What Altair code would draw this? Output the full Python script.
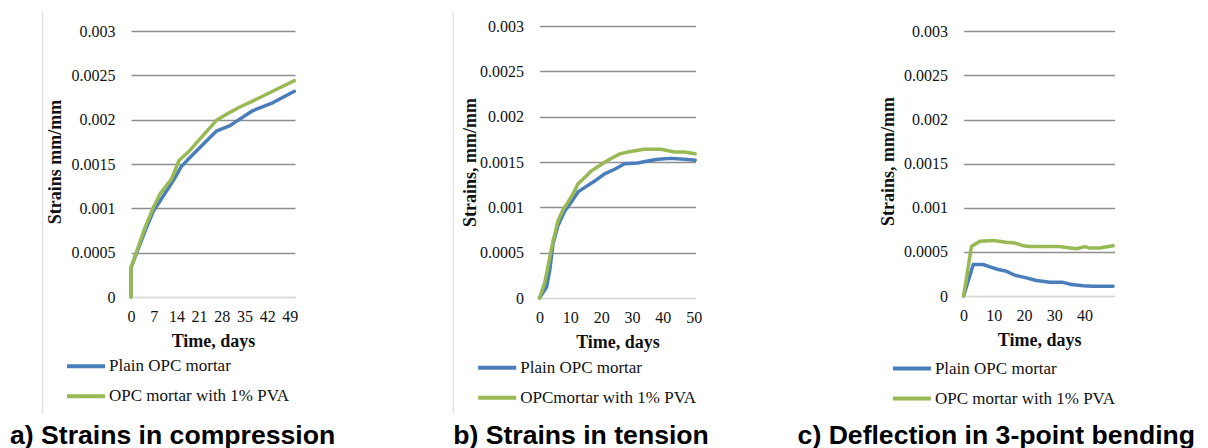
import altair as alt
import pandas as pd

# ---------------- data ----------------
SERIES_A = ["Plain OPC mortar", "OPC mortar with 1% PVA"]
SERIES_B = ["Plain OPC mortar", "OPCmortar with 1% PVA"]
SERIES_C = ["Plain OPC mortar", "OPC mortar with 1% PVA"]
CAPTIONS = ["a) Strains in compression", "b) Strains in tension", "c) Deflection in 3-point bending"]
Y_TITLES = ["Strains mm/mm", "Strains, mm/mm", "Strains, mm/mm"]
X_TITLE = "Time, days"
Y_TICKS = [0, 0.0005, 0.001, 0.0015, 0.002, 0.0025, 0.003]
X_TICKS_A = [0, 7, 14, 21, 28, 35, 42, 49]
X_TICKS_B = [0, 10, 20, 30, 40, 50]
X_TICKS_C = [0, 10, 20, 30, 40]

# a) compression
A_PLAIN_DAYS = [0, 0, 4.3, 6.9, 8.9, 13.0, 15.5, 18.1, 22.2, 26.3, 30.4, 37.5, 43.7, 50.4]
A_PLAIN_VALS = [0, 0.00033, 0.00074, 0.00097, 0.00108, 0.00131, 0.00147, 0.00157, 0.00172,
                0.00187, 0.00193, 0.00210, 0.00219, 0.00232]
A_PVA_DAYS = [0, 0, 4.3, 6.9, 8.9, 12.5, 14.8, 18.1, 21.7, 26.3, 29.4, 33.4, 37.5, 43.7, 50.4]
A_PVA_VALS = [0, 0.00033, 0.00078, 0.00101, 0.00116, 0.00133, 0.00154, 0.00165, 0.00180,
              0.00199, 0.00206, 0.00214, 0.00221, 0.00232, 0.00244]

# b) tension
B_PLAIN_DAYS = [0, 2.3, 3.3, 4.4, 6.0, 8.2, 10.3, 12.5, 14.7, 17.9, 21.1, 24.4, 27.6, 31.9,
                35.1, 38.4, 42.7, 47.0, 50.5]
B_PLAIN_VALS = [0, 0.00012, 0.0003, 0.0006, 0.0008, 0.00096, 0.00106, 0.00117, 0.00122, 0.00129,
                0.00137, 0.00142, 0.00148, 0.00149, 0.00151, 0.00153, 0.00154, 0.00153, 0.00152]
B_PVA_DAYS = [0, 1.7, 4.4, 6.0, 7.7, 9.3, 10.9, 12.5, 14.1, 16.8, 19.0, 22.2, 26.0, 28.7, 31.9,
              34.0, 39.4, 43.8, 47.0, 50.5]
B_PVA_VALS = [0, 0.00017, 0.00063, 0.00085, 0.00098, 0.00106, 0.00115, 0.00126, 0.00131, 0.00140,
              0.00145, 0.00152, 0.00159, 0.00161, 0.00163, 0.00164, 0.00164, 0.00161, 0.00161, 0.00159]

# c) 3-point bending
C_PLAIN_DAYS = [0, 3.2, 6.5, 8.7, 11.5, 14.2, 17.0, 20.8, 24.1, 28.5, 32.9, 35.7, 39.6, 42.9, 49.5]
C_PLAIN_VALS = [0, 0.000357, 0.000357, 0.00033, 0.0003, 0.00028, 0.000235, 0.000205, 0.000175,
                0.000155, 0.000155, 0.00013, 0.000116, 0.00011, 0.00011]
C_PVA_DAYS = [0, 2.6, 5.4, 9.8, 14.2, 17.0, 19.7, 21.9, 26.3, 31.8, 34.0, 37.4, 40.1, 41.8, 45.0, 49.5]
C_PVA_VALS = [0, 0.00056, 0.00062, 0.00063, 0.00061, 0.0006, 0.00057, 0.00056, 0.00056, 0.00056,
              0.00055, 0.000535, 0.00056, 0.000543, 0.000543, 0.00057]

COLORS = ["#4a7ebb", "#98b954"]
SERIF = "Liberation Serif"
SANS = "Liberation Sans"


def frame(names, pd_days, pd_vals, pv_days, pv_vals):
    rows = []
    for name, days, vals in ((names[0], pd_days, pd_vals), (names[1], pv_days, pv_vals)):
        for i, (d, v) in enumerate(zip(days, vals)):
            rows.append({"series": name, "day": d, "val": v, "i": i})
    return pd.DataFrame(rows)


def panel(df, names, caption, ytitle, xticks, xmax, width, height, ymax,
          ytitle_x, legend_x, legend_y, cap_x, rule_x, rule_opacity, xtitle_y):
    line = alt.Chart(df).mark_line(strokeWidth=3.5, strokeJoin="round", strokeCap="round").encode(
        x=alt.X("day:Q",
                scale=alt.Scale(domain=[0, xmax], nice=False, zero=False),
                axis=alt.Axis(values=xticks, title=X_TITLE, grid=False, ticks=False,
                              domainColor="#d9d9d9", domainWidth=1.5,
                              labelFont=SERIF, labelFontSize=16, labelColor="#111111",
                              labelPadding=11, labelFlush=False, labelOverlap=False,
                              titleFont=SERIF, titleFontSize=18, titleFontWeight="bold",
                              titleColor="#111111", titleY=xtitle_y, titleBaseline="middle")),
        y=alt.Y("val:Q",
                scale=alt.Scale(domain=[0, ymax], nice=False, zero=True),
                axis=alt.Axis(values=Y_TICKS, format="~g", title=ytitle, domain=False, ticks=False,
                              gridColor={"condition": {"test": "datum.value === 0", "value": "#d9d9d9"},
                                         "value": "#8f8f8f"},
                              gridWidth=1.3,
                              labelFont=SERIF, labelFontSize=16, labelColor="#111111",
                              labelPadding=16,
                              titleFont=SERIF, titleFontSize=18, titleFontWeight="bold",
                              titleColor="#111111", titleX=ytitle_x, titleY=height / 2,
                              titleBaseline="middle")),
        color=alt.Color("series:N",
                        scale=alt.Scale(domain=names, range=COLORS),
                        legend=alt.Legend(orient="none", legendX=legend_x, legendY=legend_y,
                                          title=None, direction="vertical",
                                          symbolType="stroke", symbolSize=1444,
                                          symbolStrokeWidth=4, symbolOffset=0,
                                          labelFont=SERIF, labelFontSize=17, labelColor="#111111",
                                          labelLimit=400,
                                          labelOffset=2, clipHeight=20, rowPadding=10, padding=0)),
        order="i:Q",
    )
    cap = alt.Chart(pd.DataFrame({"t": [caption]})).mark_text(
        align="left", baseline="alphabetic", font=SANS, fontSize=26.6, fontWeight="bold",
        color="#000000"
    ).encode(text="t:N", x=alt.value(cap_x), y=alt.value(418))
    border = alt.Chart(pd.DataFrame({"k": [0]})).mark_rule(
        color="#d9d9d9", strokeWidth=1, strokeOpacity=rule_opacity
    ).encode(x=alt.value(rule_x), y=alt.value(-15), y2=alt.value(388))
    return alt.layer(border, line, cap).properties(width=width, height=height)


pa = panel(frame(SERIES_A, A_PLAIN_DAYS, A_PLAIN_VALS, A_PVA_DAYS, A_PVA_VALS),
           SERIES_A, CAPTIONS[0], Y_TITLES[0], X_TICKS_A, 50.6, 164, 271, 0.003 * 271 / 266,
           ytitle_x=-76, legend_x=-66, legend_y=330.2, cap_x=-121, rule_x=-88.3, rule_opacity=1,
           xtitle_y=44.7)
pb = panel(frame(SERIES_B, B_PLAIN_DAYS, B_PLAIN_VALS, B_PVA_DAYS, B_PVA_VALS),
           SERIES_B, CAPTIONS[1], Y_TITLES[1], X_TICKS_B, 50.6, 156, 272, 0.003,
           ytitle_x=-69, legend_x=-63.3, legend_y=331.8, cap_x=-86.3, rule_x=-86.3, rule_opacity=1,
           xtitle_y=44.7)
pc = panel(frame(SERIES_C, C_PLAIN_DAYS, C_PLAIN_VALS, C_PVA_DAYS, C_PVA_VALS),
           SERIES_C, CAPTIONS[2], Y_TITLES[2], X_TICKS_C, 50, 151, 270, 0.00306,
           ytitle_x=-75, legend_x=-72.7, legend_y=332.5, cap_x=-166, rule_x=-166, rule_opacity=0,
           xtitle_y=44)

inner = alt.hconcat(pa, pb, spacing=116.5).resolve_scale(
    x="independent", y="independent", color="independent")
chart = alt.hconcat(inner, pc, spacing=88.6).resolve_scale(
    x="independent", y="independent", color="independent"
).properties(
    padding={"left": 2, "top": 2, "right": 2, "bottom": 2},
    background="white",
).configure_view(stroke=None)

chart.save("out.html", embed_options={"renderer": "svg", "actions": False})
